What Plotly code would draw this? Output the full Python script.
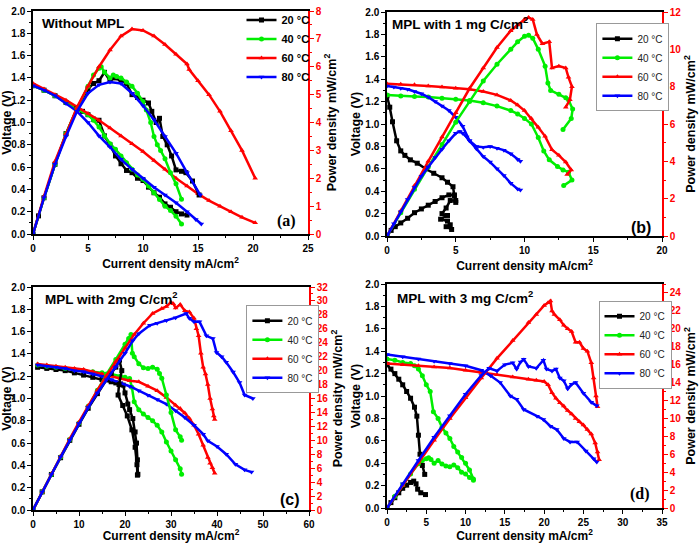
import plotly.graph_objects as go

# ---------------- Panel (a): Without MPL ----------------
a20_vx = [0, 1, 2, 3, 4, 4.5, 5, 5.5, 6, 6.5, 7, 7.5, 8, 8.5, 9, 9.5, 10, 10.5, 11, 11.5, 12, 12.5, 13, 13.5, 14]
a20_v = [1.33, 1.29, 1.24, 1.18, 1.12, 1.1, 1.07, 1.03, 1.02, 0.88, 0.8, 0.7, 0.63, 0.57, 0.55, 0.5, 0.48, 0.42, 0.37, 0.33, 0.27, 0.24, 0.2, 0.18, 0.17]
a20_px = [0, 0.5, 1, 2, 3, 4, 5, 5.5, 6, 6.5, 7, 7.4, 8, 8.5, 9, 9.5, 10, 10.5, 10.8, 11.2, 11.5, 11.8, 12.2, 12.6, 13, 13.5, 13.9, 14.5, 15.1]
a20_p = [0, 0.65, 1.3, 2.5, 3.6, 4.5, 5.2, 5.4, 5.5, 5.8, 5.5, 5.6, 5.5, 5.4, 5.0, 4.9, 4.8, 4.7, 4.4, 4.0, 4.15, 3.5, 3.2, 2.8, 2.3, 2.25, 2.2, 1.9, 1.4]

a40_vx = [0, 1, 2, 3, 4, 5, 5.5, 6, 6.5, 7, 7.5, 8, 8.5, 9, 9.5, 10, 10.5, 11, 11.5, 12, 12.5, 13, 13.5]
a40_v = [1.33, 1.29, 1.24, 1.18, 1.12, 1.07, 1.02, 0.96, 0.88, 0.81, 0.76, 0.7, 0.64, 0.58, 0.53, 0.49, 0.43, 0.37, 0.31, 0.25, 0.21, 0.16, 0.09]
a40_px = [0, 1, 2, 3, 4, 5, 5.5, 6, 6.2, 6.5, 7, 7.3, 7.6, 8, 8.5, 9, 9.5, 10, 10.3, 10.7, 11, 11.3, 11.6, 12, 12.5, 13, 13.5]
a40_p = [0, 1.3, 2.5, 3.6, 4.5, 5.3, 5.7, 5.95, 6.0, 5.8, 5.6, 5.7, 5.65, 5.6, 5.45, 5.3, 5.05, 4.75, 4.45, 4.0, 3.5, 3.2, 3.0, 2.7, 2.2, 1.8, 1.25]

a60_vx = [0, 1, 2, 3, 4, 5, 6, 7, 8, 9, 10, 11, 12, 13, 14, 15, 16, 17, 18, 19, 20.2]
a60_v = [1.35, 1.3, 1.25, 1.2, 1.14, 1.08, 1.02, 0.95, 0.88, 0.81, 0.74, 0.66, 0.58, 0.5, 0.43, 0.36, 0.3, 0.25, 0.2, 0.15, 0.1]
a60_px = [0, 1, 2, 3, 4, 5, 6, 7, 8, 9, 10, 11, 12, 13, 14, 14.2, 15, 16, 17, 18, 19, 20.2]
a60_p = [0, 1.35, 2.6, 3.6, 4.55, 5.3, 6.0, 6.6, 7.1, 7.35, 7.3, 7.1, 6.8, 6.45, 6.1, 5.9, 5.5, 5.0, 4.4, 3.7, 3.0, 2.0]

a80_vx = [0, 1, 2, 3, 4, 5, 6, 7, 8, 9, 10, 11, 12, 13, 14, 14.8, 15.3]
a80_v = [1.33, 1.29, 1.24, 1.17, 1.1, 1.0, 0.88, 0.78, 0.67, 0.58, 0.5, 0.42, 0.35, 0.28, 0.2, 0.13, 0.09]
a80_px = [0, 1, 2, 3, 4, 5, 6, 7, 8, 9, 10, 11, 12, 13, 14, 15.2]
a80_p = [0, 1.3, 2.5, 3.5, 4.4, 5.05, 5.35, 5.45, 5.4, 5.05, 4.6, 4.1, 3.5, 2.9, 2.2, 1.4]

# ---------------- Panel (b): MPL with 1 mg C/cm2 ----------------
b20_vx = [0, 0.2, 0.4, 0.7, 1.0, 1.3, 1.7, 2.2, 2.8, 3.4, 4.0, 4.4, 4.8, 4.9, 5.0]
b20_v = [1.25, 1.15, 1.02, 0.85, 0.76, 0.72, 0.68, 0.65, 0.6, 0.56, 0.52, 0.48, 0.44, 0.36, 0.3]
b20_px = [0, 0.3, 0.6, 1, 1.5, 2, 2.5, 3, 3.5, 4, 4.5, 4.9, 5.0, 4.6, 4.3, 4.0, 4.4, 3.9, 4.4, 4.6, 4.3, 4.7]
b20_p = [0, 0.3, 0.5, 0.7, 0.95, 1.25, 1.45, 1.65, 1.85, 2.05, 2.2, 2.2, 1.9, 1.9, 1.5, 1.2, 1.1, 0.9, 0.8, 0.6, 0.5, 0.35]

b40_vx = [0, 1, 2, 3, 4, 5, 6, 7, 8, 9, 9.5, 10, 10.5, 11, 11.4, 11.8, 12.4, 12.8, 13.2, 13.45, 12.85]
b40_v = [1.26, 1.25, 1.245, 1.24, 1.23, 1.22, 1.21, 1.19, 1.16, 1.12, 1.09, 1.05, 1.0, 0.88, 0.76, 0.68, 0.62, 0.59, 0.57, 0.5, 0.45]
b40_px = [0, 1, 2, 3, 4, 5, 6, 7, 8, 9, 9.5, 10, 10.3, 10.6, 11, 11.5, 11.7, 11.9, 12.5, 13, 13.2, 13.5, 13.4, 12.8]
b40_p = [0, 1.25, 2.5, 3.7, 4.9, 6.1, 7.2, 8.3, 9.2, 10.0, 10.4, 10.7, 10.75, 10.6, 10.0, 9.1, 8.2, 7.8, 7.6, 7.4, 7.3, 6.8, 6.3, 5.7]

b60_vx = [0, 1, 2, 3, 4, 5, 6, 7, 8, 9, 9.5, 10, 10.5, 11, 11.5, 12, 12.5, 13, 13.4, 13.1]
b60_v = [1.36, 1.355, 1.35, 1.34, 1.33, 1.32, 1.31, 1.29, 1.26, 1.21, 1.17, 1.12, 1.05, 0.97, 0.89, 0.77, 0.72, 0.66, 0.59, 0.55]
b60_px = [0, 1, 2, 3, 4, 5, 6, 7, 8, 9, 9.5, 10, 10.3, 10.6, 10.9, 11.3, 11.8, 12, 12.5, 13, 13.2, 13.45, 13.3, 13.0]
b60_p = [0, 1.35, 2.7, 4.0, 5.3, 6.6, 7.9, 9.0, 10.1, 11.0, 11.3, 11.6, 11.7, 11.6, 10.8, 10.3, 10.4, 9.0, 9.1, 9.0, 8.5, 8.0, 7.3, 6.9]

b80_vx = [0, 0.5, 1, 1.5, 2, 2.5, 3, 3.5, 4, 4.5, 5, 5.5, 6, 6.5, 7, 7.5, 8, 8.5, 9, 9.5, 9.7]
b80_v = [1.34, 1.33, 1.32, 1.31, 1.29, 1.27, 1.24, 1.2, 1.16, 1.12, 1.06, 0.98, 0.85, 0.78, 0.71, 0.66, 0.6, 0.54, 0.47, 0.42, 0.41]
b80_px = [0, 0.5, 1, 1.5, 2, 2.5, 3, 3.5, 4, 4.5, 5, 5.3, 5.5, 5.8, 6, 6.5, 7, 7.5, 8, 8.5, 9, 9.5, 9.7]
b80_p = [0, 0.65, 1.3, 1.95, 2.6, 3.2, 3.7, 4.2, 4.65, 5.1, 5.5, 5.6, 5.5, 5.3, 5.1, 4.8, 4.75, 4.8, 4.7, 4.6, 4.4, 4.1, 4.0]

# ---------------- Panel (c): MPL with 2mg C/cm2 ----------------
c20_vx = [1, 3, 5, 7, 9, 11, 13, 15, 17, 18, 19, 19.6, 20, 20.6, 21, 21.7, 22.2, 22.5, 22.7, 22.8]
c20_v = [1.28, 1.27, 1.26, 1.25, 1.23, 1.21, 1.19, 1.17, 1.15, 1.14, 1.13, 1.12, 1.05, 0.95, 0.9, 0.82, 0.7, 0.6, 0.45, 0.32]
c20_px = [0, 2, 4, 6, 8, 10, 12, 14, 16, 17, 18, 18.8, 19.3, 18.7, 18.5, 19.5, 20.5, 21.5, 22.2, 22.6, 22.7]
c20_p = [0, 2.6, 5.1, 7.5, 10, 12.3, 14.6, 16.7, 18.7, 19.6, 20.5, 21.5, 20.0, 18.0, 16.5, 15, 13.5, 11.5, 9.0, 6.5, 5.0]

c40_vx = [1, 3, 5, 7, 9, 11, 13, 15, 17, 19, 20, 21, 21.5, 22, 23, 24, 25, 26, 27, 28, 29, 30, 31, 32, 32.3]
c40_v = [1.3, 1.29, 1.28, 1.27, 1.26, 1.25, 1.24, 1.23, 1.22, 1.2, 1.19, 1.18, 1.1, 0.97, 0.9, 0.86, 0.83, 0.8, 0.76, 0.7, 0.61, 0.53, 0.45, 0.37, 0.32]
c40_px = [0, 2, 4, 6, 8, 10, 12, 14, 16, 18, 20, 20.8, 21.3, 21.6, 22, 23, 24, 25, 26, 27, 27.5, 28, 29, 30, 31, 32, 32.3]
c40_p = [0, 2.6, 5.1, 7.6, 10.1, 12.5, 14.9, 17.2, 19.5, 21.6, 23.8, 24.6, 25.2, 22.5, 22.0, 21.0, 20.4, 20.3, 20.5, 20.2, 19.6, 18.9, 16.5, 14, 11.5, 10.5, 10.0]

c60_vx = [1, 3, 5, 7, 9, 11, 13, 15, 17, 19, 21, 23, 25, 27, 29, 31, 32, 33, 34, 35, 36, 37, 38, 38.5, 39, 39.5]
c60_v = [1.31, 1.3, 1.29, 1.28, 1.27, 1.26, 1.24, 1.22, 1.2, 1.18, 1.16, 1.15, 1.11, 1.07, 1.01, 0.94, 0.91, 0.87, 0.82, 0.76, 0.68, 0.58, 0.47, 0.42, 0.38, 0.33]
c60_px = [0, 2, 4, 6, 8, 10, 12, 14, 16, 18, 20, 22, 24, 26, 28, 29, 30, 30.5, 31, 32, 33, 34, 35, 35.5, 36, 36.5, 37, 37.5, 38, 38.5, 39, 39.3, 39.5]
c60_p = [0, 2.6, 5.2, 7.7, 10.2, 12.6, 15, 17.2, 19.3, 21.3, 23.2, 25.2, 26.8, 28.2, 28.9, 29.2, 29.8, 29.6, 29.0, 29.5, 28.6, 28.4, 27.5, 26.0, 25.0, 22.5, 20.5, 19.5, 18.0, 16.0, 14.5, 13.5, 13.0]

c80_vx = [1, 3, 5, 7, 9, 11, 13, 15, 17, 19, 21, 23, 25, 27, 29, 31, 33, 35, 37, 38, 40, 42, 44, 46, 47.5]
c80_v = [1.3, 1.29, 1.28, 1.27, 1.25, 1.24, 1.22, 1.2, 1.17, 1.14, 1.11, 1.07, 1.03, 0.99, 0.95, 0.89, 0.83, 0.76, 0.68, 0.62, 0.57, 0.5, 0.41, 0.36, 0.34]
c80_px = [0, 2, 4, 6, 8, 10, 12, 14, 16, 18, 20, 21.7, 23, 25.4, 27, 29, 31, 33.3, 34, 35, 36.2, 37.7, 39.1, 39.9, 41, 42, 43.5, 44.9, 46, 47.8]
c80_p = [0, 2.6, 5.1, 7.6, 10.0, 12.4, 14.7, 16.8, 18.7, 20.5, 22.5, 24.3, 25.3, 26.5, 26.8, 27.2, 27.6, 28.2, 27.5, 27.0, 27.0, 25.0, 24.6, 22.6, 22.0, 21.2, 19.8, 18.3, 16.5, 16.0]

# ---------------- Panel (d): MPL with 3 mg C/cm2 ----------------
d20_vx = [0, 0.5, 1, 1.5, 2, 2.5, 3, 3.5, 3.8, 4.0, 4.2, 4.5, 4.8]
d20_v = [1.28, 1.24, 1.2, 1.15, 1.1, 1.04, 0.98, 0.9, 0.82, 0.65, 0.48, 0.38, 0.3]
d20_px = [0, 0.5, 1, 1.5, 2, 2.5, 3, 3.4, 3.7, 3.9, 4.3, 4.9]
d20_p = [0, 0.6, 1.15, 1.7, 2.2, 2.55, 2.85, 3.0, 2.7, 2.1, 1.7, 1.5]

d40_vx = [0, 1, 2, 3, 3.5, 4, 4.5, 5, 5.5, 5.9, 6.5, 7, 7.5, 8, 8.5, 9, 9.5, 10, 10.5, 11]
d40_v = [1.33, 1.32, 1.3, 1.29, 1.27, 1.24, 1.18, 1.1, 1.04, 0.86, 0.8, 0.72, 0.67, 0.62, 0.55, 0.5, 0.45, 0.4, 0.34, 0.26]
d40_px = [0, 1, 2, 3, 4, 4.5, 5, 5.3, 5.6, 6, 6.5, 7, 7.5, 8, 8.5, 9, 9.5, 10, 10.5, 11]
d40_p = [0, 1.3, 2.6, 3.8, 4.95, 5.3, 5.5, 5.6, 5.4, 5.0, 5.3, 4.9, 4.7, 4.6, 4.8, 4.5, 4.0, 3.8, 3.4, 3.1]

d60_vx = [0, 2, 4, 6, 8, 10, 12, 14, 16, 18, 19, 20, 20.5, 21, 21.5, 22, 22.5, 23, 23.5, 24, 24.5, 25, 25.5, 26, 26.5, 26.8, 27]
d60_v = [1.29, 1.28, 1.27, 1.26, 1.25, 1.23, 1.21, 1.19, 1.17, 1.15, 1.14, 1.13, 1.1, 1.03, 0.98, 0.94, 0.91, 0.87, 0.84, 0.8, 0.77, 0.74, 0.7, 0.66, 0.58, 0.5, 0.43]
d60_px = [0, 2, 4, 6, 8, 10, 12, 14, 16, 18, 19, 20, 20.5, 20.8, 21, 21.3, 22, 22.5, 23, 23.5, 24, 24.5, 25, 25.5, 26, 26.3, 26.6, 26.8]
d60_p = [0, 2.55, 5.1, 7.55, 10, 12.3, 14.5, 16.7, 18.7, 20.7, 21.6, 22.6, 22.9, 23.1, 22.0, 21.6, 21.0, 20.4, 20.0, 19.7, 18.5, 18.5, 17.8, 17.5, 16.2, 14.5, 12.5, 11.3]

d80_vx = [0, 2, 4, 6, 8, 10, 12, 13.2, 14.4, 15.7, 16.5, 17.4, 19.1, 19.9, 20.8, 21.6, 22.5, 23.3, 24.2, 25.3, 26.3, 26.7]
d80_v = [1.37, 1.35, 1.33, 1.31, 1.29, 1.27, 1.23, 1.18, 1.12, 1.0, 0.97, 0.88, 0.82, 0.79, 0.73, 0.7, 0.62, 0.59, 0.59, 0.51, 0.44, 0.41]
d80_px = [0, 2, 4, 6, 8, 10, 12, 13, 14, 15, 16, 16.5, 17, 17.4, 18, 19, 19.9, 20.3, 21, 21.5, 22, 22.5, 23, 23.5, 24, 25, 26, 26.7]
d80_p = [0, 2.7, 5.3, 7.9, 10.3, 12.7, 14.8, 15.6, 15.3, 16.0, 16.2, 15.5, 16.3, 16.6, 15.8, 15.6, 16.5, 15.5, 15.3, 15.5, 14.5, 14.2, 13.3, 13.8, 14.0, 12.8, 11.8, 11.4]

# ---------------- labels / axis settings ----------------
temps = ["20 °C", "40 °C", "60 °C", "80 °C"]
colors = ["#000000", "#00ee00", "#ff0000", "#0000ff"]
symbols = ["square", "circle", "triangle-up", "triangle-down"]
panel_titles = ["Without MPL", "MPL with 1 mg C/cm<sup>2</sup>",
                "MPL with 2mg C/cm<sup>2</sup>", "MPL with 3 mg C/cm<sup>2</sup>"]
panel_letters = ["(a)", "(b)", "(c)", "(d)"]
x_max = [25, 20, 60, 35]
x_dtick = [5, 5, 10, 5]
p_max = [8, 12, 32, 25]
p_dtick = [1, 2, 2, 2]
p_tickmax = [8, 12, 32, 24]

series = [
    [(a20_vx, a20_v, a20_px, a20_p), (a40_vx, a40_v, a40_px, a40_p),
     (a60_vx, a60_v, a60_px, a60_p), (a80_vx, a80_v, a80_px, a80_p)],
    [(b20_vx, b20_v, b20_px, b20_p), (b40_vx, b40_v, b40_px, b40_p),
     (b60_vx, b60_v, b60_px, b60_p), (b80_vx, b80_v, b80_px, b80_p)],
    [(c20_vx, c20_v, c20_px, c20_p), (c40_vx, c40_v, c40_px, c40_p),
     (c60_vx, c60_v, c60_px, c60_p), (c80_vx, c80_v, c80_px, c80_p)],
    [(d20_vx, d20_v, d20_px, d20_p), (d40_vx, d40_v, d40_px, d40_p),
     (d60_vx, d60_v, d60_px, d60_p), (d80_vx, d80_v, d80_px, d80_p)],
]

FONT = "Liberation Sans"
W, H = 700, 543
# plot areas in pixels: (left, right, top, bottom)
boxes = [(33, 308, 11, 234), (387, 662, 12, 236), (33, 309, 287, 510), (387, 662, 284, 508)]

fig = go.Figure()
layout = dict(width=W, height=H, margin=dict(l=0, r=0, t=0, b=0),
              paper_bgcolor="white", plot_bgcolor="white", showlegend=True,
              annotations=[])

legend_pos = [(0.345, 0.99), (0.852, 0.957), (0.352, 0.438), (0.855, 0.446)]
title_pos = [(0.025, 0.942), (0.011, 0.95), (0.036, 0.95), (0.029, 0.942)]
letter_pos = [(0.964, 0.058), (0.967, 0.04), (0.975, 0.049), (0.964, 0.0625)]

for i in range(4):
    n = i + 1
    xid = "x" if n == 1 else f"x{n}"
    ylid = "y" if n == 1 else f"y{2*i+1}"
    yrid = f"y{2*i+2}"
    xkey = "xaxis" if n == 1 else f"xaxis{n}"
    ylkey = "yaxis" if n == 1 else f"yaxis{2*i+1}"
    yrkey = f"yaxis{2*i+2}"
    legkey = "legend" if n == 1 else f"legend{n}"
    l, r, t, b = boxes[i]
    dx = [l / W, r / W]
    dy = [1 - b / H, 1 - t / H]

    tickfont = dict(family=FONT, size=10, color="black", weight="bold")
    xtitlefont = dict(family=FONT, size=12, color="black", weight="bold")
    ytitlefont = dict(family=FONT, size=12.5, color="black", weight="bold")

    layout[xkey] = dict(domain=dx, anchor=ylid, range=[0, x_max[i]], dtick=x_dtick[i], tick0=0,
                        showgrid=False, zeroline=False, showline=True, linecolor="black",
                        linewidth=1.5, mirror=True, ticks="outside", ticklen=4, tickwidth=1.2,
                        tickcolor="black", tickfont=tickfont,
                        minor=dict(dtick=x_dtick[i] / 2, ticks="outside", ticklen=2, tickcolor="black"),
                        title=dict(text="Current density mA/cm<sup>2</sup>", font=xtitlefont, standoff=7),
                        automargin=False)
    layout[ylkey] = dict(domain=dy, anchor=xid, range=[0, 2.0], dtick=0.2, tick0=0, tickformat=".1f",
                         showgrid=False, zeroline=False, showline=True, linecolor="black",
                         linewidth=1.5, ticks="outside", ticklen=4, tickwidth=1.2, tickcolor="black",
                         tickfont=tickfont,
                         minor=dict(dtick=0.1, ticks="outside", ticklen=2, tickcolor="black"),
                         title=dict(text="Voltage (V)", font=ytitlefont, standoff=2),
                         automargin=False)
    tvals = list(range(0, p_tickmax[i] + 1, p_dtick[i]))
    layout[yrkey] = dict(overlaying=ylid, anchor=xid, side="right", range=[0, p_max[i]],
                         tickvals=tvals, ticktext=[str(v) for v in tvals],
                         showgrid=False, zeroline=False, showline=True, linecolor="red",
                         linewidth=1.5, ticks="outside", ticklen=4, tickwidth=1.2, tickcolor="red",
                         tickfont=dict(family=FONT, size=10, color="red", weight="bold"),
                         minor=dict(dtick=p_dtick[i] / 2, ticks="outside", ticklen=2, tickcolor="red"),
                         title=dict(text="Power density mW/cm<sup>2</sup>", font=ytitlefont, standoff=6),
                         automargin=False)

    if i == 0:
        layout[legkey] = dict(x=legend_pos[i][0], y=legend_pos[i][1], xanchor="left", yanchor="top",
                              bgcolor="rgba(255,255,255,0)", borderwidth=0,
                              font=dict(family=FONT, size=11, color="black", weight="bold"),
                              itemwidth=30, tracegroupgap=0)
    else:
        layout[legkey] = dict(x=legend_pos[i][0], y=legend_pos[i][1], xanchor="left", yanchor="top",
                              bgcolor="white", bordercolor="#999999", borderwidth=1,
                              font=dict(family=FONT, size=10, color="#222222"),
                              itemwidth=30, tracegroupgap=0)

    for k in range(4):
        vx, vy, px, py = series[i][k]
        style = dict(mode="lines+markers", line=dict(color=colors[k], width=2.5),
                     marker=dict(symbol=symbols[k], size=5, color=colors[k], line=dict(width=0)))
        fig.add_trace(go.Scatter(x=vx, y=vy, xaxis=xid, yaxis=ylid, name=temps[k],
                                 legend=legkey, legendgroup=f"{i}-{k}", showlegend=True, **style))
        fig.add_trace(go.Scatter(x=px, y=py, xaxis=xid, yaxis=yrid, name=temps[k],
                                 legend=legkey, legendgroup=f"{i}-{k}", showlegend=False, **style))

    layout["annotations"].append(dict(text=panel_titles[i], xref=f"{xid} domain", yref=f"{ylid} domain",
                                      x=title_pos[i][0], y=title_pos[i][1], xanchor="left",
                                      yanchor="middle", showarrow=False,
                                      font=dict(family=FONT, size=13.5, color="black", weight="bold")))
    letter_font = "Liberation Serif" if i in (0, 3) else FONT
    layout["annotations"].append(dict(text=panel_letters[i], xref=f"{xid} domain", yref=f"{ylid} domain",
                                      x=letter_pos[i][0], y=letter_pos[i][1], xanchor="right",
                                      yanchor="middle", showarrow=False,
                                      font=dict(family=letter_font, size=16, color="black", weight="bold")))

fig.update_layout(**layout)
fig.write_html("out.html")
